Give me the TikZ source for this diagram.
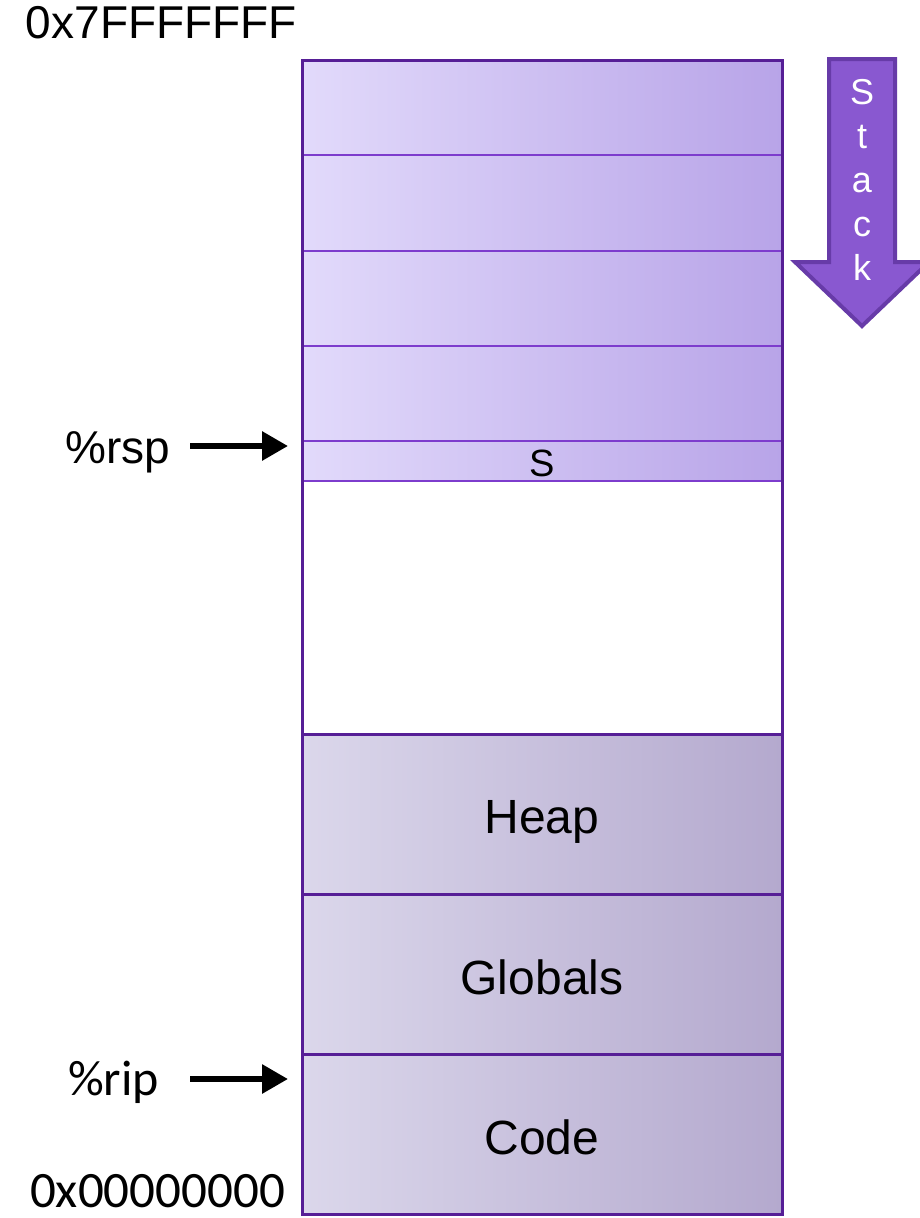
\documentclass[tikz,border=0pt]{standalone}
\usepackage{fontspec}
\setmainfont{Liberation Sans}
\newfontfamily\calfont{Carlito}
\usetikzlibrary{positioning, arrows.meta}

\definecolor{memedge}{RGB}{86,30,150}
\definecolor{rowline}{RGB}{125,60,205}
\definecolor{stackL}{RGB}{226,218,251}
\definecolor{stackR}{RGB}{184,164,232}
\definecolor{segL}{RGB}{219,215,235}
\definecolor{segR}{RGB}{180,169,206}
\definecolor{growfill}{RGB}{137,88,208}
\definecolor{growedge}{RGB}{103,59,168}

\begin{document}
\begin{tikzpicture}[x=1pt, y=-1pt, node distance=0pt,
        frame/.style={rectangle, minimum width=480pt, inner sep=0pt, outer sep=0pt},
        slot/.style={frame, draw=rowline, line width=2pt, left color=stackL, right color=stackR},
        seg/.style={frame, draw=memedge, line width=3pt, left color=segL, right color=segR},
        segname/.style={text depth=0pt, yshift=-3pt, font=\fontsize{48}{54}\selectfont},
        addr/.style={font=\calfont\fontsize{51}{56}\selectfont, inner sep=0pt},
        reg/.style={font=\fontsize{46}{52}\selectfont, inner sep=0pt},
        ptr/.style={line width=6pt, -{Triangle[length=26pt,width=28pt]}}]
    \useasboundingbox (0,0) rectangle (920,1218);

    % stack frames
    \node [slot, minimum height=95pt, anchor=north west] (f1) at (302,60) {};
    \node [slot, minimum height=96pt, below=of f1] (f2) {};
    \node [slot, minimum height=95pt, below=of f2] (f3) {};
    \node [slot, minimum height=95pt, below=of f3] (f4) {};
    \node [slot, minimum height=40pt, below=of f4] (s) {};
    \node [font=\fontsize{38}{40}\selectfont, yshift=-2pt] (slabel) at (s) {S};
    \node [frame, minimum height=253pt, below=of s] (free) {};
    % lower segments
    \node [seg, minimum height=160pt, below=of free] (heap) {};
    \node [seg, minimum height=160pt, below=of heap] (globals) {};
    \node [seg, minimum height=160pt, below=of globals] (code) {};
    \node [segname] (heapname) at (heap) {Heap};
    \node [segname] (globalsname) at (globals) {Globals};
    \node [segname] (codename) at (code) {Code};
    \draw [memedge, line width=3pt] (f1.north west) rectangle (code.south east);

    % addresses
    \node [inner sep=0pt, font=\fontsize{46}{50}\selectfont, anchor=base east] (hi) at (297,38) {0x7FFFFFFF};
    \node [addr, anchor=base east] (lo) at (285,1207) {0x00000000};

    % registers
    \node [reg, anchor=base west] (rsp) at (65,463) {\%rsp};
    \node [reg, anchor=base west, font=\calfont\fontsize{50}{56}\selectfont] (rip) at (68,1095) {\%rip};
    \coordinate (rspfrom) at (190,446);
    \coordinate (rsptip) at (288,446);
    \coordinate (ripfrom) at (190,1079);
    \coordinate (riptip) at (288,1079);
    \draw [ptr] (rspfrom) -- (rsptip);
    \draw [ptr] (ripfrom) -- (riptip);

    % growth direction
    \draw [fill=growfill, draw=growedge, line width=4pt, line join=miter]
        (829,59) -- (895,59) -- (895,262) -- (929,262) -- (862,326) -- (795,262) -- (829,262) -- cycle;
    \node [text=white, align=center, font=\fontsize{36}{44}\selectfont] (grow) at (862,180) {S\\t\\a\\c\\k};

\end{tikzpicture}
\end{document}
